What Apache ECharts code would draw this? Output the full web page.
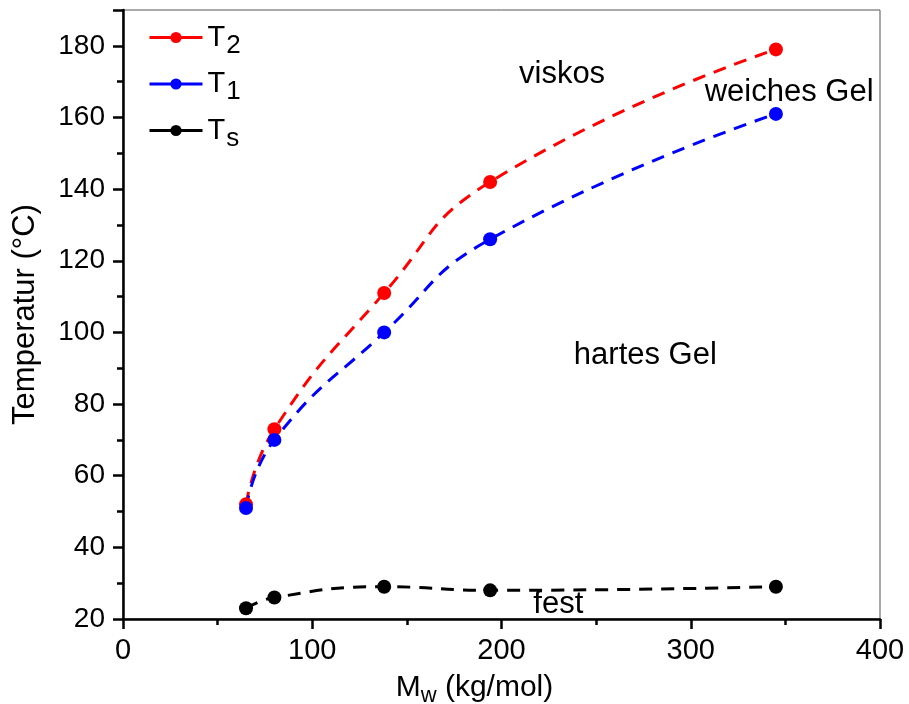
<!DOCTYPE html>
<html>
<head>
<meta charset="utf-8">
<script src="https://cdn.jsdelivr.net/npm/echarts@6/dist/echarts.min.js"></script>
<style>html,body{margin:0;padding:0;background:#fff}#c{width:909px;height:704px}</style>
</head>
<body>
<div id="c"></div>
<script>
const mw = [65, 80, 138, 194, 345];
const t2 = [52, 73, 111, 142, 179];
const t1 = [51, 70, 100, 126, 161];
const ts = [23, 26, 29, 28, 29];
const seriesNames = ['T2', 'T1', 'Ts'];
const annotationX = [232, 352, 276, 230];
const annotationY = [172, 167, 93.5, 24];
const annotationText = ['viskos', 'weiches Gel', 'hartes Gel', 'fest'];

const FONT = '"Liberation Sans", Arial, sans-serif';
const pairs = (ys) => mw.map((x, i) => [x, ys[i]]);
const dash = [13, 9];

function lineSeries(name, ys, color) {
  return {
    name: name, type: 'line', data: pairs(ys), smooth: 0.5,
    symbol: 'circle', symbolSize: 14,
    itemStyle: { color: color },
    lineStyle: { color: color, width: 3, type: dash },
    z: 3
  };
}

const chart = echarts.init(document.getElementById('c'), null, { renderer: 'canvas' });
chart.setOption({
  animation: false,
  textStyle: { fontFamily: FONT },
  grid: { left: 123, right: 29, top: 10, bottom: 85, show: true, borderColor: '#555', borderWidth: 1, backgroundColor: 'transparent', containLabel: false, outerBoundsMode: 'none' },
  legend: {
    data: seriesNames,
    orient: 'vertical', left: 143, top: 18,
    itemWidth: 53, itemHeight: 14, itemGap: 11,
    lineStyle: { type: 'solid', width: 3 },
    formatter: n => '{m|T}{s|' + n.slice(1) + '}',
    textStyle: {
      color: '#000',
      rich: {
        m: { fontSize: 29, fontFamily: FONT, color: '#000' },
        s: { fontSize: 26, fontFamily: FONT, color: '#000', padding: [16, 0, 0, 1] }
      }
    }
  },
  xAxis: {
    type: 'value', min: 0, max: 400, interval: 100,
    name: '{m|M}{s|w}{m| (kg/mol)}', nameLocation: 'middle', nameGap: 50,
    nameTextStyle: {
      padding: [0, 54, 0, 0],
      rich: {
        m: { fontSize: 30, fontFamily: FONT, color: '#000' },
        s: { fontSize: 22, fontFamily: FONT, color: '#000', padding: [16, 0, 0, 0] }
      }
    },
    axisLine: { show: true, onZero: false, lineStyle: { color: '#000', width: 2.5 } },
    axisTick: { show: true, length: 10, lineStyle: { color: '#000', width: 2.5 } },
    minorTick: { show: true, splitNumber: 2, length: 6, lineStyle: { color: '#000', width: 2.5 } },
    axisLabel: { fontSize: 29, color: '#000', margin: 17, fontFamily: FONT },
    splitLine: { show: false }
  },
  yAxis: {
    type: 'value', min: 20, max: 190, interval: 20,
    name: 'Temperatur (°C)', nameLocation: 'middle', nameGap: 82, nameRotate: 90,
    nameTextStyle: { fontSize: 31, color: '#000', fontFamily: FONT },
    axisLine: { show: true, onZero: false, lineStyle: { color: '#000', width: 2.5 } },
    axisTick: { show: true, length: 10, lineStyle: { color: '#000', width: 2.5 } },
    minorTick: { show: true, splitNumber: 2, length: 6, lineStyle: { color: '#000', width: 2.5 } },
    axisLabel: { fontSize: 28, color: '#000', margin: 18, fontFamily: FONT, showMaxLabel: false },
    splitLine: { show: false }
  },
  series: [
    lineSeries(seriesNames[0], t2, '#ff0000'),
    lineSeries(seriesNames[1], t1, '#0000ff'),
    lineSeries(seriesNames[2], ts, '#000000'),
    {
      name: 'annotations', type: 'scatter', silent: true, symbolSize: 0,
      itemStyle: { opacity: 1 },
      data: annotationX.map((x, i) => [x, annotationY[i], annotationText[i]]),
      label: {
        show: true, position: 'inside', formatter: p => p.value[2],
        fontSize: 31, color: '#000', fontFamily: FONT, opacity: 1
      },
      z: 5
    }
  ]
});
</script>
</body>
</html>
